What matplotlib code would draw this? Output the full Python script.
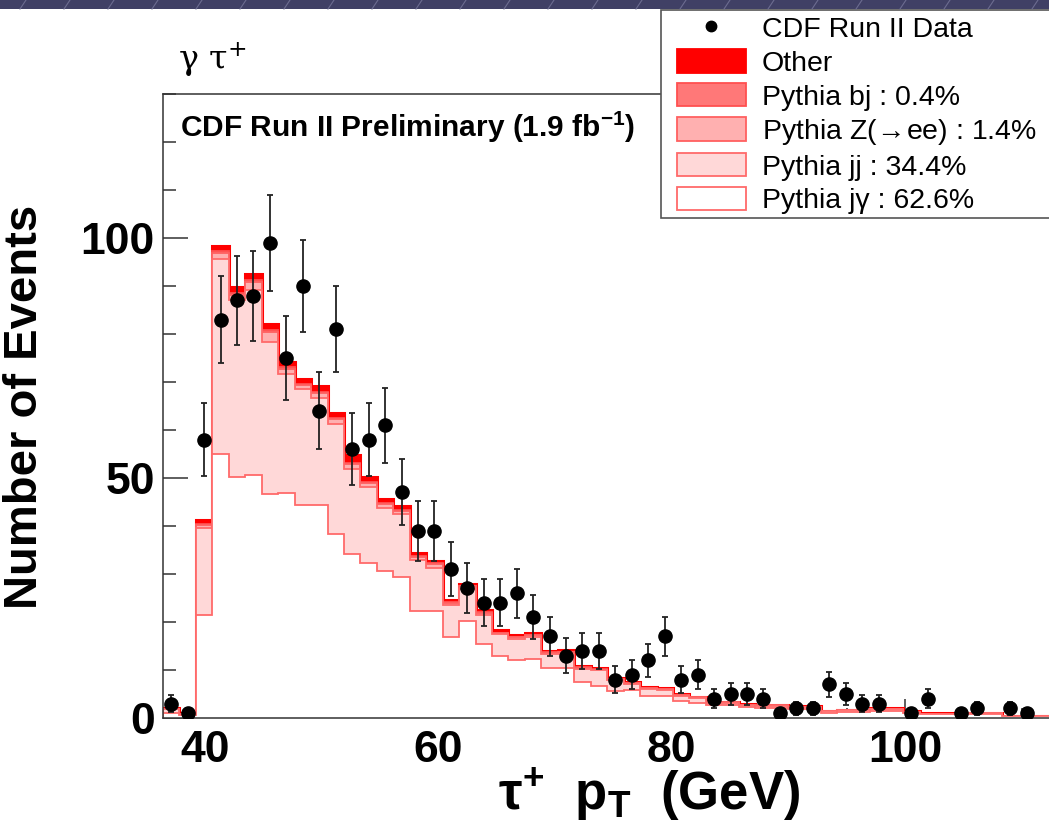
import matplotlib.pyplot as plt
import numpy as np
from matplotlib.patches import Patch, Rectangle
from matplotlib.lines import Line2D
from matplotlib.ticker import MultipleLocator

# =============================================================================
# fonts (ROOT style -> Helvetica-like)
# =============================================================================
plt.rcParams['font.family'] = ['Liberation Sans', 'DejaVu Sans']
plt.rcParams['mathtext.fontset'] = 'custom'
plt.rcParams['mathtext.rm'] = 'Liberation Sans'
plt.rcParams['mathtext.bf'] = 'Liberation Sans:bold'
plt.rcParams['mathtext.it'] = 'Liberation Sans:italic'

# =============================================================================
# histogram binning and contents (tau pT, GeV)
# =============================================================================
bin_low = 36.41
bin_width = 1.4096
n_bins = 54
x_max = 112.33

data_counts = [3, 1, 58, 83, 87, 88, 99, 75, 90, 64,
               81, 56, 58, 61, 47, 39, 39, 31, 27, 24,
               24, 26, 21, 17, 13, 14, 14, 8, 9, 12,
               17, 8, 9, 4, 5, 5, 4, 1, 2, 2,
               7, 5, 3, 3, 0, 1, 4, 0, 1, 2,
               0, 2, 1, 0]

pythia_jgamma = [1.0, 0.6, 21.5, 55.0, 50.2, 50.7, 46.6, 46.9, 44.4, 44.4,
                 38.3, 34.2, 32.3, 30.7, 29.3, 22.3, 22.3, 16.8, 20.3, 15.5,
                 12.9, 12.0, 12.2, 10.5, 10.5, 7.4, 6.7, 5.6, 5.9, 4.6,
                 4.6, 3.5, 3.2, 2.7, 2.8, 2.2, 2.1, 2.1, 1.8, 1.8,
                 1.1, 1.3, 1.3, 1.5, 1.5, 1.0, 0.8, 0.8, 0.8, 0.8,
                 0.8, 0.4, 0.4, 0.4]

pythia_jj = [0.8, 0.3, 18.1, 40.6, 36.8, 38.5, 31.8, 24.7, 24.1, 22.3,
             22.9, 17.7, 15.8, 13.0, 13.1, 10.7, 8.9, 6.7, 6.6, 6.0,
             4.5, 4.5, 4.7, 2.8, 2.9, 2.9, 3.2, 2.3, 1.1, 1.5,
             1.3, 1.1, 1.0, 0.5, 0.4, 0.5, 0.5, 0.5, 0.4, 0.4,
             0.3, 0.3, 0.3, 0.4, 0.4, 0.3, 0.1, 0.1, 0.1, 0.2,
             0.2, 0.0, 0.0, 0.0]

pythia_zee = [0.1, 0.0, 0.6, 1.2, 1.2, 1.6, 2.0, 1.2, 0.8, 1.0,
              1.0, 1.0, 0.8, 0.8, 0.8, 0.6, 0.8, 0.5, 0.5, 0.4,
              0.3, 0.3, 0.3, 0.3, 0.3, 0.2, 0.2, 0.2, 0.2, 0.2,
              0.1, 0.1, 0.1, 0.1, 0.1, 0.1, 0.1, 0.1, 0.1, 0.1,
              0.0, 0.0, 0.0, 0.0, 0.0, 0.0, 0.0, 0.0, 0.0, 0.0,
              0.0, 0.0, 0.0, 0.0]

pythia_bj = [0.0, 0.0, 0.2, 0.4, 0.4, 0.4, 0.4, 0.3, 0.3, 0.3,
             0.3, 0.3, 0.3, 0.2, 0.2, 0.2, 0.2, 0.1, 0.1, 0.1,
             0.1, 0.1, 0.1, 0.1, 0.1, 0.1, 0.1, 0.0, 0.0, 0.0,
             0.0, 0.0, 0.0, 0.0, 0.0, 0.0, 0.0, 0.0, 0.0, 0.0,
             0.0, 0.0, 0.0, 0.0, 0.0, 0.0, 0.0, 0.0, 0.0, 0.0,
             0.0, 0.0, 0.0, 0.0]

other = [0.1, 0.1, 0.9, 1.2, 1.2, 1.2, 1.2, 1.0, 1.0, 1.2,
         1.0, 1.6, 1.0, 1.0, 0.8, 0.6, 0.6, 0.5, 0.5, 0.5,
         0.5, 0.4, 0.4, 0.3, 0.3, 0.3, 0.3, 0.2, 0.2, 0.2,
         0.2, 0.2, 0.1, 0.1, 0.1, 0.1, 0.1, 0.1, 0.1, 0.1,
         0.1, 0.1, 0.1, 0.1, 0.1, 0.1, 0.1, 0.1, 0.1, 0.1,
         0.1, 0.1, 0.1, 0.1]

labels = ['CDF Run II Data', 'Other', 'Pythia bj : 0.4%',
          r'Pythia Z($\!\rightarrow\!$ee) : 1.4%', 'Pythia jj : 34.4%',
          'Pythia j\u03b3 : 62.6%']

edges = bin_low + bin_width * np.arange(n_bins + 1)
centers = 0.5 * (edges[:-1] + edges[1:])
data_counts = np.array(data_counts, dtype=float)

# stack, bottom up
stack = [np.array(pythia_jgamma), np.array(pythia_jj), np.array(pythia_zee),
         np.array(pythia_bj), np.array(other)]
cum = np.cumsum(stack, axis=0)

fills = ['white', '#ffd8d8', '#ffb0b0', '#ff7878', '#ff0000']
lines = ['#ff6a6a', '#ff6a6a', '#ff6060', '#ff5050', '#ff0000']
widths = [1.3, 1.3, 1.3, 1.3, 2.2]

# =============================================================================
# figure
# =============================================================================
W, H = 1049, 823
fig = plt.figure(figsize=(W / 100, H / 100), dpi=100)
fig.set_facecolor('w')
ax = fig.add_axes([163 / W, 1 - 718 / H, (W - 163) / W, 624 / H])

# draw the stack from the top down so lower components cover upper ones
for i in range(4, -1, -1):
    ax.stairs(cum[i], edges, fill=True, facecolor=fills[i], edgecolor=lines[i],
              linewidth=widths[i], zorder=2)

mask = data_counts > 0
ax.errorbar(centers[mask], data_counts[mask], yerr=np.sqrt(data_counts[mask]),
            fmt='o', color='black', ecolor='#222222', ms=9.5, elinewidth=1.3,
            capsize=2.5, capthick=1.3, zorder=5)

ax.set_xlim(bin_low, x_max)
ax.set_ylim(0, 130)

ax.xaxis.set_major_locator(MultipleLocator(20))
ax.xaxis.set_minor_locator(MultipleLocator(5))
ax.yaxis.set_major_locator(MultipleLocator(50))
ax.yaxis.set_minor_locator(MultipleLocator(10))

ax.tick_params(which='both', direction='in', top=False, right=False,
               width=1.1, color='#333333')
ax.tick_params(axis='y', which='major', length=18, pad=6)
ax.tick_params(axis='y', which='minor', length=9)
ax.tick_params(axis='x', which='major', length=13.5, pad=9)
ax.tick_params(axis='x', which='minor', length=7)
for lab in ax.get_xticklabels() + ax.get_yticklabels():
    lab.set_fontsize(32)
    lab.set_fontweight('bold')

ax.spines['right'].set_visible(False)
for s in ['left', 'bottom', 'top']:
    ax.spines[s].set_linewidth(1.1)
    ax.spines[s].set_color('#333333')

ax.text(-0.156, 0.822, 'Number of Events', rotation=90, ha='center', va='top',
        fontsize=34, fontweight='bold', transform=ax.transAxes)
ax.text(0.719, -0.123, '\u03c4$^{\\mathbf{+}}$  p$_{\\mathbf{T}}$  (GeV)',
        ha='right', va='center', fontsize=38, fontweight='bold',
        transform=ax.transAxes)
ax.text(0.019, 0.947, r'CDF Run II Preliminary (1.9 fb$^{\mathbf{-1}}$)',
        ha='left', va='center', fontsize=21.5, fontweight='bold',
        transform=ax.transAxes)
fig.text(178 / W, 1 - 60 / H, '\u03b3 \u03c4$^{+}$', fontsize=24, va='center',
         family='DejaVu Serif', math_fontfamily='dejavuserif')

# legend: frame drawn separately so the entries can sit further in
fig.add_artist(Rectangle((661 / W, 1 - 218 / H), 420 / W, 208 / H,
                         transform=fig.transFigure, facecolor='white',
                         edgecolor='#555555', linewidth=1.2, zorder=4))
handles = [Line2D([], [], marker='o', ls='none', color='black', ms=7.5)]
for i in range(4, -1, -1):
    handles.append(Patch(facecolor=fills[i], edgecolor=lines[i], linewidth=1.3))
leg = fig.legend(handles, labels, loc='upper left',
                 bbox_to_anchor=(671 / W, 1 - 10 / H),
                 borderaxespad=0, fontsize=20.5,
                 handlelength=2.42, handleheight=0.88, handletextpad=0.56,
                 labelspacing=0.22, borderpad=0.2, frameon=False)
leg.set_zorder(5)

# slide banner at the very top
fig.add_artist(Rectangle((0, 1 - 9 / H), 1, 9 / H, transform=fig.transFigure,
                         facecolor='#404065', edgecolor='none', zorder=10))
for x0 in range(20, W, 44):
    fig.add_artist(Line2D([x0 / W, (x0 + 6) / W], [1 - 9 / H, 1],
                          transform=fig.transFigure, color='#6c6c90',
                          lw=0.8, zorder=11))

plt.savefig('out.png', dpi=100)
